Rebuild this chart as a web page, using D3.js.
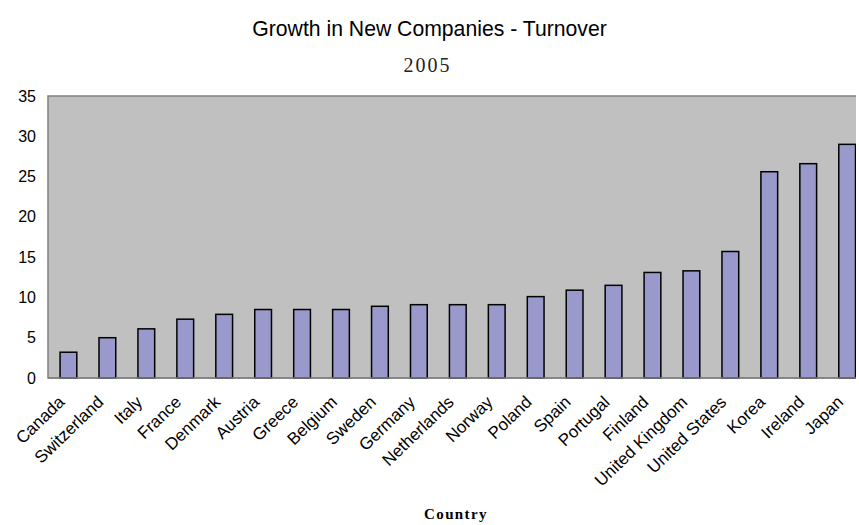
<!DOCTYPE html>
<html>
<head>
<meta charset="utf-8">
<script src="https://cdn.jsdelivr.net/npm/d3@7"></script>
<style>
  html, body { margin: 0; padding: 0; background: #fff; }
  svg { display: block; }
</style>
</head>
<body>
<svg id="chart" width="859" height="525"></svg>
<script>
// Turnover growth of new companies by country, 2005
const countries = ["Canada", "Switzerland", "Italy", "France", "Denmark", "Austria", "Greece",
  "Belgium", "Sweden", "Germany", "Netherlands", "Norway", "Poland", "Spain", "Portugal",
  "Finland", "United Kingdom", "United States", "Korea", "Ireland", "Japan"];
const turnover = [3.2, 5.0, 6.1, 7.3, 7.9, 8.5, 8.5, 8.5, 8.9, 9.1, 9.1, 9.1, 10.1, 10.9,
  11.5, 13.1, 13.3, 15.7, 25.6, 26.6, 29.0];
const yTicks = [0, 5, 10, 15, 20, 25, 30, 35];

const svg = d3.select("#chart");
const plot = { left: 48, top: 96, bottom: 378, right: 867.6, visibleRight: 856 };

const x = d3.scaleBand()
  .domain(countries)
  .range([plot.left, plot.right])
  .paddingInner(0.57)
  .paddingOuter(0.31);

const y = d3.scaleLinear()
  .domain([0, 35])
  .range([plot.bottom, plot.top]);

// Clip for the visible part of the plot area
svg.append("defs").append("clipPath").attr("id", "plotClip")
  .append("rect")
  .attr("x", plot.left - 2).attr("y", plot.top - 2)
  .attr("width", plot.visibleRight - plot.left + 2)
  .attr("height", plot.bottom - plot.top + 4);

const g = svg.append("g").attr("clip-path", "url(#plotClip)");

// Plot background
g.append("rect")
  .attr("x", plot.left).attr("y", plot.top)
  .attr("width", plot.right - plot.left)
  .attr("height", plot.bottom - plot.top)
  .attr("fill", "#c0c0c0")
  .attr("stroke", "#808080")
  .attr("stroke-width", 1.5);

// Bars
g.selectAll("rect.bar")
  .data(countries)
  .join("rect")
  .attr("class", "bar")
  .attr("x", d => x(d))
  .attr("width", x.bandwidth())
  .attr("y", (d, i) => y(turnover[i]))
  .attr("height", (d, i) => y(0) - y(turnover[i]))
  .attr("fill", "#9999cc")
  .attr("stroke", "#000")
  .attr("stroke-width", 1.5);

// Category axis line
svg.append("line")
  .attr("x1", plot.left).attr("x2", plot.visibleRight)
  .attr("y1", plot.bottom).attr("y2", plot.bottom)
  .attr("stroke", "#808080").attr("stroke-width", 1.5);

// Value axis labels
const yAxis = d3.axisLeft(y).tickValues(yTicks).tickSize(0).tickPadding(12);
const ya = svg.append("g")
  .attr("transform", `translate(${plot.left},0)`)
  .call(yAxis);
ya.select(".domain").remove();
ya.selectAll("text")
  .attr("font-family", "Liberation Sans, Arial, sans-serif")
  .attr("font-size", 16)
  .attr("fill", "#000");

// Country labels, rotated
const xAxis = d3.axisBottom(x).tickSize(0).tickPadding(0);
const xa = svg.append("g")
  .attr("transform", `translate(0,${plot.bottom})`)
  .call(xAxis);
xa.select(".domain").remove();
xa.selectAll("text")
  .attr("font-family", "Liberation Sans, Arial, sans-serif")
  .attr("font-size", 17)
  .attr("fill", "#000")
  .attr("text-anchor", "end")
  .attr("dy", "0.35em")
  .attr("transform", "translate(-7,21) rotate(-44)");

// Titles
svg.append("text")
  .attr("x", 429.5).attr("y", 36)
  .attr("text-anchor", "middle")
  .attr("font-family", "Liberation Sans, Arial, sans-serif")
  .attr("font-size", 21.2)
  .text("Growth in New Companies - Turnover");

svg.append("text")
  .attr("x", 427.5).attr("y", 71.5)
  .attr("text-anchor", "middle")
  .attr("font-family", "Liberation Serif, Times New Roman, serif")
  .attr("font-size", 20)
  .attr("letter-spacing", 2)
  .attr("fill", "#222")
  .text("2005");

svg.append("text")
  .attr("x", 456).attr("y", 519)
  .attr("text-anchor", "middle")
  .attr("font-family", "Liberation Serif, Times New Roman, serif")
  .attr("font-size", 15)
  .attr("font-weight", "bold")
  .attr("letter-spacing", 1.4)
  .text("Country");
</script>
</body>
</html>
